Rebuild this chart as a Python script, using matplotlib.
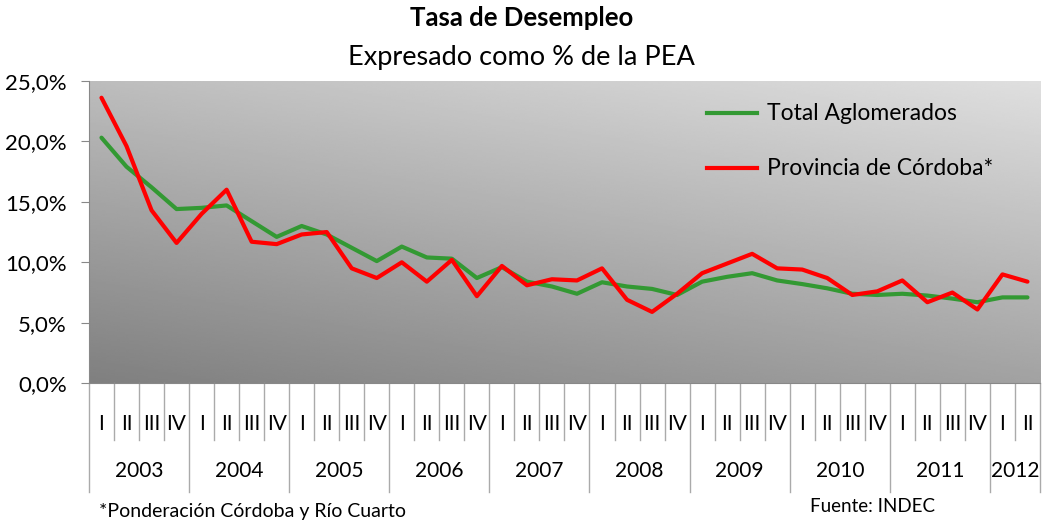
import numpy as np
import matplotlib
matplotlib.use("Agg")
import matplotlib.pyplot as plt
import matplotlib.transforms as mtransforms
from matplotlib.lines import Line2D

# datos trimestrales 2003-I .. 2012-II
years = ["2003", "2004", "2005", "2006", "2007", "2008", "2009", "2010", "2011", "2012"]
quarters_per_year = [4, 4, 4, 4, 4, 4, 4, 4, 4, 2]
quarter_names = ["I", "II", "III", "IV"]

total_aglomerados = [20.3, 17.9, 16.2, 14.4, 14.5, 14.7, 13.4, 12.1, 13.0, 12.3,
                     11.2, 10.1, 11.3, 10.4, 10.3, 8.7, 9.6, 8.4, 8.0, 7.4,
                     8.35, 8.0, 7.8, 7.3, 8.4, 8.8, 9.1, 8.5, 8.2, 7.85,
                     7.4, 7.3, 7.4, 7.25, 7.0, 6.7, 7.1, 7.1]
provincia_cordoba = [23.6, 19.6, 14.3, 11.6, 14.0, 16.0, 11.7, 11.5, 12.3, 12.5,
                     9.5, 8.7, 10.0, 8.4, 10.2, 7.2, 9.7, 8.1, 8.6, 8.5,
                     9.5, 6.9, 5.9, 7.4, 9.1, 9.9, 10.7, 9.5, 9.4, 8.7,
                     7.3, 7.6, 8.5, 6.7, 7.5, 6.1, 9.0, 8.4]

plt.rcParams['font.family'] = ['Lato', 'DejaVu Sans']

fig = plt.figure(figsize=(10.43, 5.25), dpi=100)
ax = fig.add_axes([0.0853, 0.2699, 0.9118, 0.5762])

n = len(total_aglomerados)
x = np.arange(n)
ax.set_xlim(-0.5, n - 0.5)
ax.set_ylim(0, 25)

# fondo degradado gris
gx, gy = np.meshgrid(np.linspace(0, 1, 200), np.linspace(0, 1, 200))
grad = 0.50 + 0.135 * gx + 0.24 * gy
ax.imshow(grad, extent=[-0.5, n - 0.5, 0, 25], origin='lower', aspect='auto',
          cmap='gray', vmin=0, vmax=1, zorder=0, interpolation='bilinear')

ax.plot(x, total_aglomerados, color='#339933', lw=3, solid_joinstyle='round',
        solid_capstyle='round', zorder=3)
ax.plot(x, provincia_cordoba, color='#ff0000', lw=3, solid_joinstyle='round',
        solid_capstyle='round', zorder=4)

# eje y
yt = np.arange(0, 26, 5)
ax.set_yticks(yt)
ax.set_yticklabels([f"{v:.1f}%".replace('.', ',') for v in yt], fontsize=16)
ax.tick_params(axis='y', direction='out', length=6, color='#888888', pad=10)
ax.set_xticks([])
for s in ['top', 'right']:
    ax.spines[s].set_visible(False)
for s in ['left', 'bottom']:
    ax.spines[s].set_color('#888888')

# eje x agrupado: trimestres y años
trans = mtransforms.blended_transform_factory(ax.transData, ax.transAxes)
pos = 0
for yr, nq in zip(years, quarters_per_year):
    ax.plot([pos - 0.5, pos - 0.5], [0, -0.359], transform=trans, color='#aaaaaa',
            lw=1, clip_on=False)
    for q in range(nq):
        if q > 0:
            ax.plot([pos + q - 0.5, pos + q - 0.5], [0, -0.187], transform=trans,
                    color='#aaaaaa', lw=1, clip_on=False)
        ax.text(pos + q, -0.134, quarter_names[q], transform=trans, ha='center',
                va='center', fontsize=15)
    ax.text(pos + (nq - 1) / 2, -0.29, yr, transform=trans, ha='center', va='center',
            fontsize=15)
    pos += nq
ax.plot([pos - 0.5, pos - 0.5], [0, -0.359], transform=trans, color='#aaaaaa',
        lw=1, clip_on=False)

# títulos
fig.text(0.5, 1 - 18 / 525, "Tasa de Desempleo", ha='center', va='center',
         fontsize=18.5, fontweight='bold')
fig.text(0.5, 1 - 57 / 525, "Expresado como % de la PEA", ha='center', va='center',
         fontsize=19.5)

# leyenda
for yy, col, lab in [(113, '#339933', "Total Aglomerados"),
                     (168, '#ff0000', "Provincia de Córdoba*")]:
    fig.add_artist(Line2D([707 / 1043, 757 / 1043], [1 - yy / 525] * 2, color=col, lw=3))
    fig.text(767 / 1043, 1 - yy / 525, lab, ha='left', va='center', fontsize=16.5)

fig.text(99 / 1043, 1 - 512 / 525, "*Ponderación Córdoba y Río Cuarto", ha='left',
         va='center', fontsize=14)
fig.text(810 / 1043, 1 - 507 / 525, "Fuente: INDEC", ha='left', va='center', fontsize=13.5)

fig.savefig("out.png", dpi=100)
